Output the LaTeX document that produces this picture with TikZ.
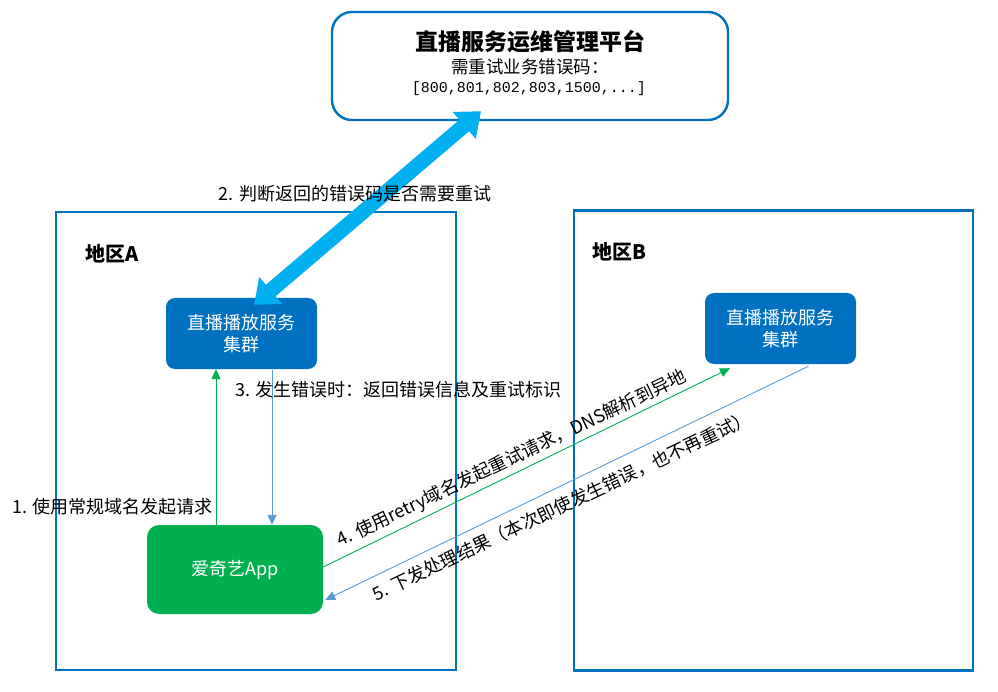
\documentclass[tikz,border=0pt]{standalone}
\usepackage{fontspec}
\setmainfont{Noto Sans CJK SC}
\newfontfamily\codefont{Liberation Mono}
\usetikzlibrary{arrows.meta}
\definecolor{regblue}{HTML}{0070C0}
\definecolor{appgreen}{HTML}{00B050}
\definecolor{bigarrow}{HTML}{00B0F0}
\definecolor{thinblue}{HTML}{5B9BD5}
\begin{document}
\begin{tikzpicture}[x=1pt,y=-1pt,
  region/.style={draw=regblue, line width=2.4pt, inner sep=0pt},
  platbox/.style={draw=regblue, line width=2.4pt, fill=white, rounded corners=20pt, inner sep=0pt},
  cluster/.style={fill=regblue, rounded corners=9pt, text=white, align=center,
    font=\fontsize{18}{22}\selectfont, inner sep=0pt},
  appbox/.style={fill=appgreen, rounded corners=12pt, text=white, align=center,
    font=\fontsize{18}{22}\selectfont, inner sep=0pt},
  lbl/.style={font=\fontsize{18}{22}\selectfont, text=black, inner sep=0pt},
  reglbl/.style={font=\bfseries\fontsize{20}{24}\selectfont, text=black, inner sep=0pt, anchor=west},
  greenarr/.style={draw=appgreen, line width=0.9pt, -{Triangle[length=10pt,width=9pt]}},
  bluearr/.style={draw=thinblue, line width=0.9pt, -{Triangle[length=10pt,width=9pt]}},
  bigarr/.style={draw=bigarrow, line width=15pt,
    {Triangle[length=22pt,width=34pt]}-{Triangle[length=22pt,width=34pt]}}
]
\useasboundingbox (0,0) rectangle (998,692);

% regions
\node[region, minimum width=400pt, minimum height=458pt] (regA) at (256,441) {};
\node[region, minimum width=399pt, minimum height=460pt] (regB) at (773.5,440.5) {};
\node[reglbl] (regAl) at (85,254) {地区A};
\node[reglbl] (regBl) at (592,252) {地区B};

% platform box
\node[platbox, minimum width=396pt, minimum height=108pt] (plat) at (530,66) {};
\node[font=\bfseries\fontsize{23}{26}\selectfont, inner sep=0pt] (platt) at (530,42) {直播服务运维管理平台};
\node[font=\fontsize{17.5}{20}\selectfont, inner sep=0pt] (platc) at (530,67) {需重试业务错误码：};
\node[font=\codefont\fontsize{15}{18}\selectfont, inner sep=0pt] (platn) at (529,89) {[800,801,802,803,1500,...]};

% clusters and app
\node[cluster, minimum width=151pt, minimum height=71pt] (clA) at (241.5,333.5) {直播播放服务\\集群};
\node[cluster, minimum width=151pt, minimum height=71pt] (clB) at (780.5,328.5) {直播播放服务\\集群};
\node[appbox, minimum width=176pt, minimum height=89pt] (app) at (235,569.5) {爱奇艺App};

% big double arrow
\coordinate (bigA) at ([xshift=12.5pt,yshift=-7pt]clA.north);
\coordinate (bigB) at ([xshift=-49pt,yshift=10pt]plat.south);
\draw[bigarr] (bigA) -- (bigB);
\node[lbl] (l2) at (355,194) {2. 判断返回的错误码是否需要重试};

% arrow 1
\path ([xshift=-19pt]app.north) coordinate (a1s);
\draw[greenarr] (a1s) -- (a1s |- clA.south);
\node[lbl, anchor=east] (l1) at (213,507) {1. 使用常规域名发起请求};

% arrow 3
\path ([xshift=30.5pt,yshift=-1pt]clA.south) coordinate (a3s);
\draw[bluearr] (a3s) -- (a3s |- app.north);
\node[lbl, anchor=west] (l3) at (235,390) {3. 发生错误时：返回错误信息及重试标识};

% arrow 4
\draw[greenarr] ([yshift=2.5pt]app.east) -- ([xshift=-50.5pt,yshift=-4pt]clB.south);
\node[lbl, rotate=25.5] (l4) at (512,459) {4. 使用retry域名发起重试请求，DNS解析到异地};

% arrow 5
\draw[bluearr] ([xshift=28pt,yshift=-2pt]clB.south) -- ([xshift=2pt,yshift=-30.5pt]app.east);
\node[lbl, rotate=25.3] (l5) at (562,506) {5. 下发处理结果（本次即使发生错误，也不再重试）};
\end{tikzpicture}
\end{document}
